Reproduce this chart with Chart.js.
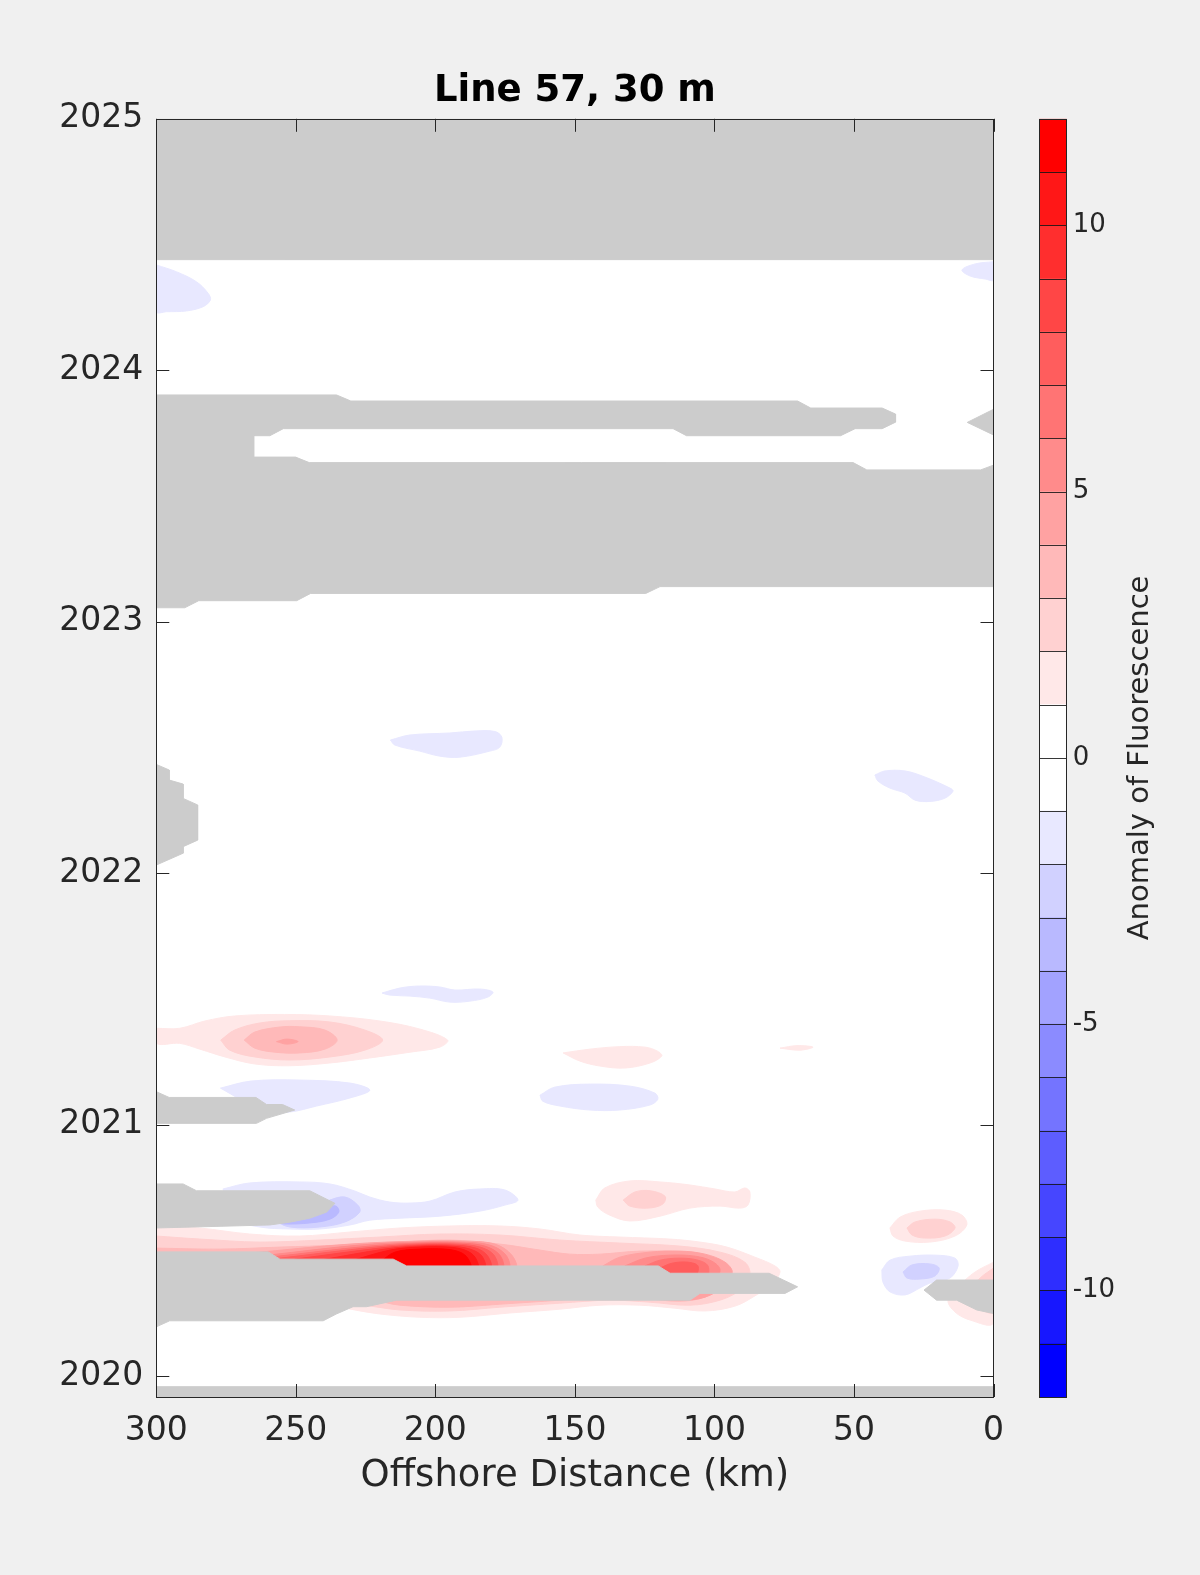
<!DOCTYPE html>
<html>
<head>
<meta charset="utf-8">
<title>Line 57, 30 m</title>
<script src="https://cdn.jsdelivr.net/npm/chart.js@4/dist/chart.umd.min.js"></script>
<style>
  html, body { margin: 0; padding: 0; background: #f0f0f0; }
  #wrap { position: relative; width: 1200px; height: 1575px; }
  #wrap canvas { position: absolute; top: 0; }
  #plot { left: 0; }
  #cbar { left: 1000px; }
</style>
</head>
<body>
<div id="wrap">
  <canvas id="plot" width="1200" height="1575"></canvas>
  <canvas id="cbar" width="200" height="1575"></canvas>
</div>
<script>
// ---- axes ----
const distTicks = [0, 50, 100, 150, 200, 250, 300];
const yearTicks = [2020, 2021, 2022, 2023, 2024, 2025];
const distRange = [0, 300];
const yearRange = [2019.918, 2025];

// ---- colour bar ----
const cbEdges = [-12, -11, -10, -9, -8, -7, -6, -5, -4, -3, -2, -1, 0, 1, 2, 3, 4, 5, 6, 7, 8, 9, 10, 11, 12];
const cbTicks = [-10, -5, 0, 5, 10];

// ---- no-data areas [km, year] ----
const maskTop = [[300, 2025], [0, 2025], [0, 2024.440], [300, 2024.440]];
const mask2023 = [[300, 2023.902], [235.4, 2023.902], [230.3, 2023.878], [70.2, 2023.878], [65.5, 2023.850], [39.9, 2023.850],
  [35.1, 2023.826], [35.1, 2023.794], [39.9, 2023.768], [49.6, 2023.768], [54.8, 2023.740], [110.0, 2023.740],
  [114.8, 2023.768], [254.5, 2023.768], [259.3, 2023.740], [265.1, 2023.740], [265.1, 2023.655], [250.1, 2023.655],
  [245.2, 2023.633], [50.3, 2023.633], [45.4, 2023.604], [4.6, 2023.604], [0, 2023.623], [0, 2023.140],
  [119.5, 2023.140], [124.6, 2023.113], [244.7, 2023.113], [249.7, 2023.084], [284.8, 2023.084], [289.8, 2023.056], [300, 2023.056]];
const maskWedge2023 = [[0, 2023.845], [9.4, 2023.793], [0, 2023.743]];
const mask2022 = [[300, 2022.433], [295.4, 2022.411], [295.4, 2022.371], [290.4, 2022.355], [290.4, 2022.298], [285.2, 2022.272],
  [285.2, 2022.132], [290.4, 2022.106], [290.4, 2022.080], [300, 2022.033]];
const mask2021 = [[300, 2021.132], [295.4, 2021.109], [264.3, 2021.109], [260.5, 2021.081], [254.8, 2021.081], [250.4, 2021.059],
  [260.5, 2021.026], [264.1, 2021.006], [300, 2021.006]];
const mask2020b = [[300, 2020.765], [290.4, 2020.765], [285.6, 2020.738], [245.0, 2020.738], [236.0, 2020.688], [239.0, 2020.653],
  [245.0, 2020.629], [252.2, 2020.613], [259.3, 2020.602], [300, 2020.590]];
const mask2020a = [[300, 2020.495], [259.9, 2020.495], [255.7, 2020.466], [215.1, 2020.466], [210.3, 2020.439], [120.1, 2020.439],
  [115.9, 2020.410], [80.4, 2020.410], [70.2, 2020.356], [74.7, 2020.330], [105.2, 2020.330], [108.8, 2020.303],
  [213.9, 2020.303], [224.7, 2020.277], [229.5, 2020.277], [235.5, 2020.248], [240.2, 2020.221], [295.2, 2020.221], [300, 2020.197]];
const maskCoast = [[24.9, 2020.343], [20.4, 2020.383], [0, 2020.383], [0, 2020.250], [6.0, 2020.264], [13.2, 2020.303], [20.4, 2020.303]];
const maskBottom = [[300, 2019.959], [0, 2019.959], [0, 2019.90], [300, 2019.90]];

// ---- negative anomaly contours ----
const blue2024W = [[300, 2024.419], [292.8, 2024.392], [285.6, 2024.352], [281.4, 2024.306], [280.6, 2024.280], [283.2, 2024.253],
  [289.2, 2024.236], [296.3, 2024.233], [300, 2024.233]];
const blue2024E = [[0, 2024.432], [6.6, 2024.423], [11.3, 2024.399], [8.4, 2024.375], [3.0, 2024.363], [0, 2024.359]];
const blue2022W = [[216.1, 2022.530], [209.1, 2022.550], [194.8, 2022.558], [185.8, 2022.566], [178.7, 2022.564], [176.2, 2022.542],
  [176.9, 2022.502], [180.5, 2022.486], [191.2, 2022.462], [198.4, 2022.466], [205.6, 2022.486], [214.5, 2022.510]];
const blue2022E = [[42.5, 2022.391], [38.9, 2022.407], [31.7, 2022.407], [24.6, 2022.383], [15.6, 2022.339], [14.5, 2022.327],
  [17.4, 2022.299], [22.8, 2022.286], [28.1, 2022.291], [31.7, 2022.319], [37.1, 2022.339], [41.4, 2022.367]];
const blue2021a = [[219.1, 2021.524], [212.7, 2021.544], [205.6, 2021.552], [198.4, 2021.548], [193.0, 2021.536], [184.1, 2021.540],
  [179.4, 2021.528], [181.2, 2021.508], [187.6, 2021.492], [194.8, 2021.488], [202.0, 2021.504], [209.1, 2021.512], [216.3, 2021.516]];
const blue2021W = [[277.0, 2021.146], [266.1, 2021.174], [248.6, 2021.178], [230.6, 2021.166], [223.5, 2021.138], [230.6, 2021.107],
  [242.5, 2021.075], [252.2, 2021.051], [262.9, 2021.051], [270.1, 2021.102]];
const blue2021M = [[162.5, 2021.118], [157.2, 2021.150], [144.6, 2021.162], [130.3, 2021.154], [121.3, 2021.126], [120.3, 2021.102],
  [123.1, 2021.079], [133.9, 2021.059], [144.6, 2021.059], [155.4, 2021.075], [161.5, 2021.094]];
const blue2020L1 = [[276.1, 2020.745], [266.5, 2020.769], [248.6, 2020.773], [237.8, 2020.765], [228.9, 2020.737], [223.5, 2020.713],
  [216.3, 2020.693], [209.1, 2020.689], [201.9, 2020.697], [193.0, 2020.733], [184.1, 2020.745], [175.1, 2020.741],
  [170.4, 2020.701], [175.1, 2020.681], [184.1, 2020.657], [198.4, 2020.637], [212.7, 2020.629], [223.5, 2020.621],
  [230.6, 2020.602], [241.4, 2020.586], [252.2, 2020.586], [262.9, 2020.594], [270.1, 2020.621]];
const blue2020L2 = [[258.2, 2020.621], [248.6, 2020.653], [237.8, 2020.701], [232.4, 2020.713], [227.8, 2020.681], [227.1, 2020.653],
  [232.4, 2020.614], [241.4, 2020.594], [252.2, 2020.594]];
const blue2020L3 = [[256.8, 2020.614], [248.6, 2020.641], [239.6, 2020.673], [235.6, 2020.677], [234.6, 2020.653], [237.8, 2020.625],
  [245.0, 2020.610], [254.0, 2020.606]];
const blue2020EL1 = [[40.0, 2020.423], [37.1, 2020.462], [29.9, 2020.478], [21.0, 2020.482], [13.8, 2020.470], [12.7, 2020.439],
  [15.6, 2020.391], [22.8, 2020.371], [26.3, 2020.352], [31.7, 2020.324], [37.1, 2020.336], [39.6, 2020.375]];
const blue2020EL2 = [[32.4, 2020.415], [29.2, 2020.443], [22.8, 2020.447], [19.5, 2020.431], [21.0, 2020.399], [26.3, 2020.387], [31.0, 2020.391]];

// ---- positive anomaly contours ----
const red2021L1 = [[300, 2021.384], [291.6, 2021.384], [282.6, 2021.413], [271.9, 2021.433], [254.0, 2021.439], [237.8, 2021.433],
  [219.9, 2021.413], [205.6, 2021.381], [195.6, 2021.337], [198.4, 2021.309], [209.1, 2021.289], [223.5, 2021.266],
  [237.8, 2021.246], [252.2, 2021.235], [264.7, 2021.242], [275.4, 2021.270], [284.4, 2021.301], [291.6, 2021.324], [300, 2021.324]];
const red2021L2 = [[276.9, 2021.337], [271.9, 2021.377], [262.9, 2021.405], [252.2, 2021.414], [237.8, 2021.409], [225.3, 2021.377],
  [218.9, 2021.337], [225.3, 2021.297], [237.8, 2021.270], [252.2, 2021.258], [264.7, 2021.270], [273.7, 2021.297]];
const red2021L3 = [[268.5, 2021.337], [264.7, 2021.369], [255.7, 2021.389], [248.6, 2021.390], [239.6, 2021.377], [235.2, 2021.337],
  [239.6, 2021.301], [248.6, 2021.286], [257.5, 2021.289], [264.7, 2021.305]];
const red2021L4 = [[256.9, 2021.331], [253.2, 2021.341], [249.2, 2021.331], [253.2, 2021.321]];
const red2021M = [[154.2, 2021.286], [144.6, 2021.301], [133.9, 2021.311], [124.9, 2021.309], [120.4, 2021.293], [118.9, 2021.274],
  [123.1, 2021.246], [132.1, 2021.226], [141.1, 2021.234], [148.3, 2021.254]];
const red2021E = [[76.5, 2021.305], [70.4, 2021.315], [64.7, 2021.309], [69.4, 2021.297]];
const red2020ML1 = [[142.5, 2020.701], [139.3, 2020.749], [130.3, 2020.777], [119.5, 2020.773], [108.8, 2020.761], [99.8, 2020.745],
  [92.7, 2020.733], [89.1, 2020.749], [87.3, 2020.733], [88.0, 2020.681], [90.9, 2020.669], [98.0, 2020.677],
  [108.8, 2020.669], [119.5, 2020.637], [130.3, 2020.618], [137.5, 2020.641], [141.8, 2020.673]];
const red2020ML2 = [[132.7, 2020.701], [128.5, 2020.733], [123.1, 2020.738], [117.7, 2020.716], [118.5, 2020.685], [123.8, 2020.669], [130.3, 2020.677]];
const red2020EL1 = [[37.1, 2020.590], [33.5, 2020.633], [26.3, 2020.657], [17.4, 2020.661], [11.3, 2020.641], [9.6, 2020.602],
  [13.8, 2020.558], [22.8, 2020.534], [31.7, 2020.538], [36.0, 2020.558]];
const red2020EL2 = [[31.0, 2020.590], [28.1, 2020.614], [21.0, 2020.625], [15.6, 2020.614], [13.8, 2020.590], [17.4, 2020.558],
  [24.6, 2020.550], [29.2, 2020.562]];
const redCoastL1 = [[0, 2020.454], [6.6, 2020.415], [12.0, 2020.363], [16.3, 2020.303], [13.8, 2020.256], [8.4, 2020.224], [0, 2020.212]];
const redCoastL2 = [[0, 2020.431], [4.8, 2020.391], [8.4, 2020.343], [6.6, 2020.283], [0, 2020.256]];

// big bloom, mid 2020
const bloomL1 = [[300, 2020.602], [284.4, 2020.590], [266.5, 2020.566], [248.6, 2020.558], [230.6, 2020.574], [212.7, 2020.590],
  [194.8, 2020.598], [176.9, 2020.598], [162.5, 2020.586], [148.2, 2020.562], [133.9, 2020.554], [116.0, 2020.546],
  [105.2, 2020.534], [95.5, 2020.514], [85.5, 2020.474], [78.3, 2020.439], [76.5, 2020.415], [79.4, 2020.367],
  [85.5, 2020.320], [92.7, 2020.279], [103.4, 2020.260], [114.2, 2020.271], [126.7, 2020.283], [141.0, 2020.283],
  [155.4, 2020.267], [173.3, 2020.252], [191.2, 2020.235], [205.6, 2020.235], [219.9, 2020.248], [228.9, 2020.264],
  [237.8, 2020.283], [300, 2020.283]];
const bloomL2 = [[300, 2020.558], [284.4, 2020.546], [262.9, 2020.534], [241.4, 2020.542], [219.9, 2020.554], [198.4, 2020.566],
  [176.9, 2020.562], [155.4, 2020.542], [133.9, 2020.530], [112.4, 2020.518], [98.0, 2020.494], [89.1, 2020.454],
  [87.3, 2020.403], [90.9, 2020.343], [98.0, 2020.303], [108.8, 2020.283], [123.1, 2020.295], [137.5, 2020.303],
  [155.4, 2020.291], [176.9, 2020.275], [194.8, 2020.260], [212.7, 2020.264], [227.1, 2020.283], [300, 2020.303]];
const bloomL3 = [[300, 2020.510], [277.2, 2020.506], [255.7, 2020.514], [234.2, 2020.522], [212.7, 2020.534], [194.8, 2020.542],
  [176.9, 2020.526], [162.5, 2020.502], [151.8, 2020.486], [141.0, 2020.486], [126.7, 2020.498], [112.4, 2020.494],
  [99.8, 2020.470], [93.7, 2020.423], [96.2, 2020.363], [103.4, 2020.315], [112.4, 2020.299], [126.7, 2020.311],
  [141.0, 2020.315], [155.4, 2020.303], [176.9, 2020.287], [194.8, 2020.275], [212.7, 2020.283], [223.5, 2020.303], [300, 2020.303]];
const bloomL4 = [[266.5, 2020.490], [230.6, 2020.526], [205.6, 2020.538], [190.5, 2020.538], [178.7, 2020.526], [172.6, 2020.482], [171.5, 2020.431], [266.5, 2020.431]];
const bloomL5 = [[260.0, 2020.482], [227.1, 2020.522], [205.6, 2020.534], [191.2, 2020.534], [180.5, 2020.522], [174.7, 2020.482], [174.0, 2020.431], [260.0, 2020.431]];
const bloomL6 = [[259.3, 2020.474], [223.5, 2020.518], [205.6, 2020.530], [191.9, 2020.530], [182.3, 2020.518], [176.9, 2020.482], [176.2, 2020.431], [259.3, 2020.431]];
const bloomL7 = [[255.7, 2020.470], [221.7, 2020.514], [205.6, 2020.526], [193.0, 2020.526], [184.0, 2020.514], [179.0, 2020.482], [178.3, 2020.431], [255.7, 2020.431]];
const bloomL8 = [[250.4, 2020.466], [219.9, 2020.510], [205.6, 2020.522], [194.1, 2020.522], [185.5, 2020.510], [181.2, 2020.478], [180.5, 2020.431], [250.4, 2020.431]];
const bloomL9 = [[241.4, 2020.462], [218.1, 2020.506], [205.6, 2020.518], [194.8, 2020.518], [187.6, 2020.506], [183.3, 2020.478], [182.6, 2020.431], [241.4, 2020.431]];
const bloomL10 = [[230.6, 2020.458], [216.3, 2020.502], [205.6, 2020.514], [195.5, 2020.514], [189.4, 2020.502], [185.8, 2020.474], [185.1, 2020.431], [230.6, 2020.431]];
const bloomL11 = [[219.9, 2020.454], [214.5, 2020.494], [205.6, 2020.506], [196.6, 2020.506], [191.2, 2020.494], [188.4, 2020.470], [187.6, 2020.431], [219.9, 2020.431]];
// second core near 110 km
const coreL4 = [[140.0, 2020.439], [133.9, 2020.474], [123.1, 2020.494], [112.4, 2020.498], [103.4, 2020.486], [96.2, 2020.454],
  [93.7, 2020.415], [96.2, 2020.363], [103.4, 2020.315], [112.4, 2020.303], [123.1, 2020.311], [133.9, 2020.324], [140.0, 2020.375]];
const coreL5 = [[132.1, 2020.439], [124.9, 2020.470], [116.0, 2020.482], [107.0, 2020.478], [100.9, 2020.458], [98.0, 2020.423],
  [100.9, 2020.363], [107.0, 2020.327], [116.0, 2020.320], [124.9, 2020.331], [131.0, 2020.363]];
const coreL6 = [[124.9, 2020.439], [119.5, 2020.462], [112.4, 2020.470], [105.9, 2020.462], [102.3, 2020.439], [103.0, 2020.391], [112.4, 2020.375], [121.3, 2020.383]];
const coreL7 = [[119.5, 2020.431], [115.2, 2020.450], [109.5, 2020.454], [105.9, 2020.439], [107.0, 2020.399], [116.0, 2020.395]];

// drawing order, bottom to top: [shape, contour level]
const contours = [
  [blue2024W, -1], [blue2024E, -1], [blue2022W, -1], [blue2022E, -1], [blue2021a, -1], [blue2021W, -1], [blue2021M, -1],
  [blue2020L1, -1], [blue2020EL1, -1], [blue2020L2, -2], [blue2020EL2, -2], [blue2020L3, -3],
  [red2021L1, 1], [red2021M, 1], [red2021E, 1], [red2020ML1, 1], [red2020EL1, 1], [redCoastL1, 1], [bloomL1, 1],
  [red2021L2, 2], [red2020ML2, 2], [red2020EL2, 2], [redCoastL2, 2], [bloomL2, 2],
  [red2021L3, 3], [bloomL3, 3],
  [red2021L4, 4], [bloomL4, 4], [coreL4, 4],
  [bloomL5, 5], [coreL5, 5], [bloomL6, 6], [coreL6, 6], [bloomL7, 7], [coreL7, 7],
  [bloomL8, 8], [bloomL9, 9], [bloomL10, 10], [bloomL11, 11]
];
const masks = [maskTop, mask2023, maskWedge2023, mask2022, mask2021, mask2020b, mask2020a, maskCoast, maskBottom];

const FONT = "'DejaVu Sans', sans-serif";
const INK = '#262626';
const MASK = '#cccccc';

// colour of the band lying beyond a contour level (0 = white)
function levelColor(level) {
  const k = Math.min(Math.abs(level), 11);
  const g = Math.round(255 * (11 - k) / 11);
  return level >= 0 ? `rgb(255,${g},${g})` : `rgb(${g},${g},255)`;
}

// colour bar band [lo, hi]
function bandColor(lo, hi) {
  return lo >= 0 ? levelColor(lo) : levelColor(hi);
}

function toPoints(poly) {
  const pts = poly.map(p => ({ x: p[0], y: p[1] }));
  pts.push({ x: poly[0][0], y: poly[0][1] });
  return pts;
}

function shapeDataset(poly, color, tension) {
  return {
    data: toPoints(poly),
    fill: 'shape',
    backgroundColor: color,
    borderColor: color,
    borderWidth: 1,
    pointRadius: 0,
    tension: tension
  };
}

// datasets listed bottom-to-top, Chart.js paints index 0 last, so reverse
const layers = contours.map(c => shapeDataset(c[0], levelColor(c[1]), 0.35))
  .concat(masks.map(m => shapeDataset(m, MASK, 0)));

const frame = {
  id: 'frame',
  beforeDatasetsDraw(chart) {
    const { ctx, chartArea: a } = chart;
    ctx.save();
    ctx.fillStyle = '#ffffff';
    ctx.fillRect(a.left, a.top, a.right - a.left, a.bottom - a.top);
    ctx.restore();
  },
  afterDraw(chart) {
    const { ctx, chartArea: a, scales } = chart;
    ctx.save();
    ctx.strokeStyle = INK;
    ctx.lineWidth = 1;
    ctx.beginPath();
    scales.x.ticks.forEach(t => {
      const px = Math.round(scales.x.getPixelForValue(t.value)) + 0.5;
      ctx.moveTo(px, a.top); ctx.lineTo(px, a.top + 13);
      ctx.moveTo(px, a.bottom); ctx.lineTo(px, a.bottom - 13);
    });
    scales.y.ticks.forEach(t => {
      const py = Math.round(scales.y.getPixelForValue(t.value)) + 0.5;
      ctx.moveTo(a.left, py); ctx.lineTo(a.left + 13, py);
      ctx.moveTo(a.right, py); ctx.lineTo(a.right - 13, py);
    });
    ctx.stroke();
    ctx.strokeRect(Math.round(a.left) + 0.5, Math.round(a.top) + 0.5,
      Math.round(a.right - a.left), Math.round(a.bottom - a.top));

    ctx.fillStyle = '#000000';
    ctx.font = 'bold 37px ' + FONT;
    ctx.textAlign = 'center';
    ctx.textBaseline = 'alphabetic';
    ctx.fillText('Line 57, 30 m', (a.left + a.right) / 2, a.top - 18);
    ctx.restore();
  }
};

new Chart(document.getElementById('plot'), {
  type: 'line',
  data: { datasets: layers.slice().reverse() },
  options: {
    responsive: false,
    animation: false,
    events: [],
    layout: { padding: { left: 0, top: 118.8, right: 206.5, bottom: 0 } },
    plugins: { legend: { display: false }, tooltip: { enabled: false } },
    scales: {
      x: {
        type: 'linear',
        reverse: true,
        min: distRange[0],
        max: distRange[1],
        grid: { display: false, drawTicks: false },
        border: { display: false },
        afterBuildTicks: s => { s.ticks = distTicks.map(v => ({ value: v })); },
        afterFit: s => { s.height = 178; s.paddingLeft = 0; s.paddingRight = 0; },
        ticks: {
          color: INK, font: { family: FONT, size: 33 }, padding: 15,
          maxRotation: 0, autoSkip: false, callback: v => String(v)
        },
        title: {
          display: true, text: 'Offshore Distance (km)', color: INK,
          font: { family: FONT, size: 37 }, padding: { top: 0, bottom: 76 }
        }
      },
      y: {
        type: 'linear',
        min: yearRange[0],
        max: yearRange[1],
        grid: { display: false, drawTicks: false },
        border: { display: false },
        afterBuildTicks: s => { s.ticks = yearTicks.map(v => ({ value: v })); },
        afterFit: s => { s.width = 156.3; s.paddingTop = 0; s.paddingBottom = 0; },
        ticks: { color: INK, font: { family: FONT, size: 33 }, padding: 13, autoSkip: false, callback: v => String(v) }
      }
    }
  },
  plugins: [frame]
});

// ---- colour bar ----
const cbBands = cbEdges.slice(0, -1).map((lo, i) => [lo, cbEdges[i + 1]]);

const cbarFrame = {
  id: 'cbarFrame',
  afterDatasetsDraw(chart) {
    const { ctx, chartArea: a, scales } = chart;
    ctx.save();
    ctx.strokeStyle = 'rgba(20,20,20,0.85)';
    ctx.lineWidth = 1;
    ctx.beginPath();
    cbEdges.forEach(v => {
      const py = Math.round(scales.y.getPixelForValue(v)) + 0.5;
      ctx.moveTo(a.left, py); ctx.lineTo(a.right, py);
    });
    ctx.stroke();
    ctx.strokeStyle = INK;
    ctx.strokeRect(Math.round(a.left) + 0.5, Math.round(a.top) + 0.5,
      Math.round(a.right - a.left), Math.round(a.bottom - a.top));
    ctx.restore();
  },
  afterDraw(chart) {
    const { ctx, chartArea: a } = chart;
    ctx.save();
    ctx.translate(140, (a.top + a.bottom) / 2);
    ctx.rotate(-Math.PI / 2);
    ctx.fillStyle = INK;
    ctx.font = '29px ' + FONT;
    ctx.textAlign = 'center';
    ctx.textBaseline = 'middle';
    ctx.fillText('Anomaly of Fluorescence', 0, 0);
    ctx.restore();
  }
};

new Chart(document.getElementById('cbar'), {
  type: 'bar',
  data: {
    labels: [''],
    datasets: cbBands.map(b => ({
      data: [b],
      backgroundColor: bandColor(b[0], b[1]),
      borderWidth: 0,
      grouped: false,
      barPercentage: 1,
      categoryPercentage: 1
    }))
  },
  options: {
    responsive: false,
    animation: false,
    events: [],
    layout: { padding: { left: 39.3, top: 118.8, right: 0, bottom: 178 } },
    plugins: { legend: { display: false }, tooltip: { enabled: false } },
    scales: {
      x: { display: false },
      y: {
        position: 'right',
        min: cbEdges[0],
        max: cbEdges[cbEdges.length - 1],
        grid: { display: false, drawTicks: false },
        border: { display: false },
        afterBuildTicks: s => { s.ticks = cbTicks.map(v => ({ value: v })); },
        afterFit: s => { s.width = 200 - 39.3 - 27.4; s.paddingTop = 0; s.paddingBottom = 0; },
        ticks: { color: INK, font: { family: FONT, size: 26 }, padding: 6, callback: v => String(v) }
      }
    }
  },
  plugins: [cbarFrame]
});
</script>
</body>
</html>
